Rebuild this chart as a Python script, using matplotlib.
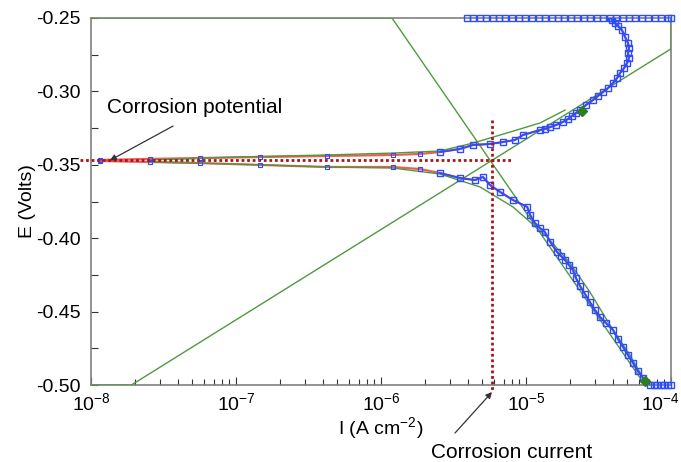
import matplotlib
matplotlib.use("Agg")
import matplotlib.pyplot as plt
import matplotlib.transforms as mtransforms
import numpy as np
from matplotlib.ticker import LogLocator, MultipleLocator, NullFormatter

plt.rcParams['font.family'] = ['Liberation Sans', 'DejaVu Sans']
plt.rcParams['mathtext.fontset'] = 'custom'
plt.rcParams['mathtext.rm'] = 'Liberation Sans'

# ---- measured data: anodic branch (I in A cm-2, E in V) ----
anod_I = [1.15e-8, 2.55e-8, 5.65e-8, 1.47e-7, 4.25e-7, 1.21e-6, 1.86e-6, 2.55e-6, 3.51e-6,
          4.31e-6, 5.65e-6, 6.93e-6, 8.39e-6, 9.53e-6, 1.25e-5, 1.35e-5, 1.47e-5, 1.61e-5,
          1.80e-5, 1.95e-5, 2.07e-5, 2.21e-5, 2.36e-5, 2.59e-5, 2.90e-5, 3.14e-5, 3.40e-5,
          3.68e-5, 3.98e-5, 4.25e-5, 4.45e-5, 4.75e-5, 4.98e-5, 5.13e-5, 5.05e-5, 5.13e-5,
          5.05e-5, 4.82e-5, 4.59e-5, 4.31e-5, 4.11e-5, 3.92e-5, 3.85e-5]
anod_E = [-0.3467, -0.3460, -0.3454, -0.3447, -0.3440, -0.3433, -0.3426, -0.3413, -0.3392,
          -0.3365, -0.3358, -0.3345, -0.3331, -0.3297, -0.3263, -0.3256, -0.3243, -0.3229,
          -0.3208, -0.3188, -0.3168, -0.3147, -0.3127, -0.3093, -0.3059, -0.3031, -0.3004,
          -0.2977, -0.2943, -0.2909, -0.2875, -0.2841, -0.2807, -0.2772, -0.2738, -0.2704,
          -0.2670, -0.2629, -0.2582, -0.2554, -0.2534, -0.2514, -0.2500]

# ---- measured data: cathodic branch ----
cath_I = [1.15e-8, 2.55e-8, 5.65e-8, 1.47e-7, 4.25e-7, 1.21e-6, 1.86e-6, 2.55e-6, 3.51e-6,
          4.45e-6, 5.05e-6, 5.65e-6, 6.62e-6, 8.13e-6, 1.02e-5, 1.07e-5, 1.15e-5, 1.25e-5,
          1.35e-5, 1.47e-5, 1.64e-5, 1.74e-5, 1.86e-5, 1.98e-5, 2.11e-5, 2.21e-5, 2.36e-5,
          2.55e-5, 2.76e-5, 2.99e-5, 3.24e-5, 3.56e-5, 3.98e-5, 4.31e-5, 4.67e-5, 5.05e-5,
          5.47e-5, 5.91e-5, 6.41e-5, 6.93e-5]
cath_E = [-0.3474, -0.3481, -0.3488, -0.3501, -0.3515, -0.3515, -0.3529, -0.3556, -0.3590,
          -0.3604, -0.3583, -0.3638, -0.3685, -0.3740, -0.3787, -0.3842, -0.3896, -0.3931,
          -0.3958, -0.4026, -0.4094, -0.4121, -0.4149, -0.4183, -0.4217, -0.4271, -0.4326,
          -0.4380, -0.4435, -0.4489, -0.4537, -0.4578, -0.4625, -0.4687, -0.4741, -0.4796,
          -0.4850, -0.4905, -0.4952, -0.5000]

# ---- points clipped at the plot limits ----
top_I = [3.9e-6, 4.3e-6, 4.8e-6, 5.3e-6, 5.9e-6, 6.5e-6, 7.2e-6, 8.0e-6, 8.9e-6, 9.9e-6,
         1.1e-5, 1.22e-5, 1.35e-5, 1.5e-5, 1.66e-5, 1.84e-5, 2.04e-5, 2.26e-5, 2.5e-5,
         2.77e-5, 3.07e-5, 3.4e-5, 3.77e-5, 4.18e-5, 4.63e-5, 5.13e-5, 5.69e-5, 6.3e-5,
         6.98e-5, 7.74e-5, 8.58e-5, 9.5e-5, 1.0e-4]
top_E = [-0.25] * len(top_I)
bot_I = [7.2e-5, 7.6e-5, 8.0e-5, 8.5e-5, 9.0e-5, 9.5e-5, 1.0e-4]
bot_E = [-0.50] * len(bot_I)

# ---- fitted (green) curves ----
fitA_I = [2.55e-8, 9.84e-8, 4.25e-7, 1.21e-6, 2.55e-6, 4.31e-6, 7.40e-6, 1.25e-5, 1.86e-5]
fitA_E = [-0.3467, -0.3447, -0.3433, -0.3420, -0.3406, -0.3352, -0.3283, -0.3215, -0.3127]
fitC_I = [2.55e-8, 9.84e-8, 4.25e-7, 1.21e-6, 2.55e-6, 4.82e-6, 8.13e-6, 1.40e-5, 2.01e-5,
          2.76e-5, 3.79e-5, 5.21e-5, 6.62e-5]
fitC_E = [-0.3481, -0.3495, -0.3515, -0.3522, -0.3563, -0.3651, -0.3787, -0.3992, -0.4169,
          -0.4367, -0.4591, -0.4796, -0.4973]
fit_end_I = [2.43e-5, 6.62e-5]
fit_end_E = [-0.3134, -0.4973]

# ---- Tafel lines (clipped at plot limits) ----
tafA_I = [1.0e-8, 1.9e-8, 1.0e-4, 1.0e-4]
tafA_E = [-0.50, -0.50, -0.271, -0.25]
tafC_I = [1.0e-8, 1.19e-6, 6.62e-5]
tafC_E = [-0.25, -0.25, -0.50]

# ---- corrosion point ----
E_corr = -0.347
I_corr = 5.8e-6

fig = plt.figure(figsize=(6.81, 4.62), dpi=100)
ax = fig.add_axes([91/681, 1-385/462, 580/681, 367/462])
ax.set_xscale('log')
ax.set_xlim(1e-8, 1e-4)
ax.set_ylim(-0.50, -0.25)

green = '#4f9a3e'
blue = '#2b4cff'
red = '#e8403a'
dred = '#a8141a'

# Tafel lines
ax.plot(tafA_I, tafA_E, color=green, lw=1.0, zorder=3)
ax.plot(tafC_I, tafC_E, color=green, lw=1.0, zorder=3)

# red fit line following data
ax.plot(anod_I, anod_E, color=red, lw=1.6, alpha=0.85, zorder=4)
ax.plot(cath_I, cath_E, color=red, lw=1.6, alpha=0.85, zorder=4)

# green fit curves
ax.plot(fitA_I, fitA_E, color=green, lw=1.0, zorder=5)
ax.plot(fitC_I, fitC_E, color=green, lw=1.0, zorder=5)

# measured data: blue markers
for I, E in ((anod_I, anod_E), (cath_I, cath_E)):
    I = np.array(I); E = np.array(E)
    m = I > 2.5e-6
    ax.plot(I[m], E[m], color=blue, lw=1.3, marker='s', ms=4, mfc='none',
            mec=blue, mew=1.0, zorder=6)
    ax.plot(I[~m], E[~m], ls='none', marker='s', ms=3.0, mfc='none',
            mec=blue, mew=0.8, zorder=6)
ax.plot(top_I, top_E, ls='none', marker='s', ms=4, mfc='none', mec=blue, mew=1.0,
        clip_on=False, zorder=6)
ax.plot(bot_I, bot_E, ls='none', marker='s', ms=4, mfc='none', mec=blue, mew=1.0,
        clip_on=False, zorder=6)

ax.plot(fit_end_I, fit_end_E, ls='none', marker='D', ms=5, color='#2e7d1e', zorder=7,
        clip_on=False)

# corrosion dotted lines
ax.plot([8.4e-9, 8.0e-6], [E_corr, E_corr], color=dred, lw=2.0, ls=(0, (1, 1)),
        clip_on=False, zorder=8)
ax.plot([I_corr, I_corr], [-0.3195, -0.5048], color=dred, lw=2.0, ls=(0, (1, 1)),
        clip_on=False, zorder=8)

# annotations
arrow = dict(arrowstyle='-|>', color='#333333', lw=0.9, mutation_scale=9,
             shrinkA=0, shrinkB=0)
ax.annotate('', xy=(1.35e-8, E_corr), xytext=(3.68e-8, -0.3236), arrowprops=arrow,
            annotation_clip=False, zorder=9)
ax.text(1.28e-8, -0.3113, 'Corrosion potential', fontsize=15, ha='left', va='center')
ax.annotate('', xy=(5.83e-6, -0.5048), xytext=(3.24e-6, -0.5327), arrowprops=arrow,
            annotation_clip=False, zorder=9)
fig.text(512/681, 1-452/462, 'Corrosion current', fontsize=15, ha='center', va='center')

# axes styling
for s in ax.spines.values():
    s.set_color('#808080')
    s.set_linewidth(1.2)
ax.xaxis.set_major_locator(LogLocator(base=10, numticks=10))
ax.xaxis.set_minor_locator(LogLocator(base=10, subs=np.arange(2, 10), numticks=20))
ax.xaxis.set_minor_formatter(NullFormatter())
ax.yaxis.set_major_locator(MultipleLocator(0.05))
ax.yaxis.set_minor_locator(MultipleLocator(0.025))
ax.tick_params(axis='both', which='major', direction='in', length=6, width=0.8,
               color='#333333', labelsize=14)
ax.tick_params(axis='x', which='major', pad=5)
ax.tick_params(axis='y', which='major', pad=7.5)
ax.tick_params(axis='both', which='minor', direction='in', length=4, width=0.8,
               color='#333333')
ax.tick_params(axis='y', which='both', length=5)
ax.set_yticklabels(['%.2f' % v for v in ax.get_yticks()])
ax.set_xlabel('I (A cm$^{-2}$)', fontsize=14, labelpad=1)
ax.set_ylabel('E (Volts)', fontsize=14, labelpad=0)

# nudge the last x tick label left so it stays inside the figure
fig.canvas.draw()
shift = mtransforms.ScaledTranslation(-11/100, 0, fig.dpi_scale_trans)
for lab in ax.get_xticklabels():
    x = lab.get_position()[0]
    if abs(x - 1e-4) / 1e-4 < 1e-6:
        lab.set_transform(lab.get_transform() + shift)

fig.savefig('out.png', dpi=100)
